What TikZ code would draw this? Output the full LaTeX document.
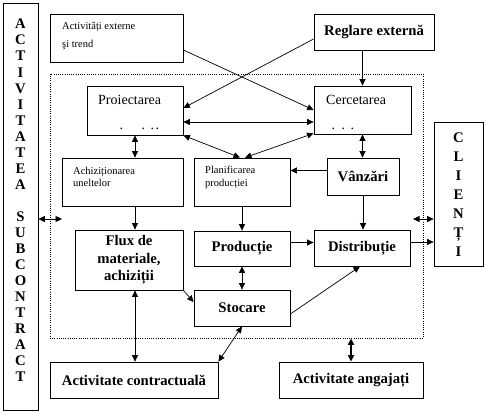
\documentclass[tikz,border=0pt]{standalone}
\usepackage{fontspec}
\setmainfont{Liberation Serif}
\usetikzlibrary{arrows.meta,calc}
\begin{document}
\begin{tikzpicture}[x=1pt,y=-1pt,
  box/.style={draw, line width=0.8pt, inner sep=0pt},
  bt/.style={font=\fontsize{14.7}{17.5}\selectfont\bfseries, align=center},
  st/.style={font=\fontsize{10.5}{12}\selectfont, anchor=base west, inner sep=0pt},
  mt/.style={font=\fontsize{14}{16}\selectfont, anchor=base west, inner sep=0pt},
  tip/.tip={Triangle[length=6.5pt,width=6pt]},
  conn/.style={line width=0.7pt, -tip},
  dconn/.style={line width=0.7pt, tip-tip},
]
\useasboundingbox (0,0) rectangle (486,414);

% dotted frame of the firm
\node[draw, line width=0.8pt, dash pattern=on 1pt off 1.2pt, inner sep=0pt,
      minimum width=373, minimum height=264] (core) at (236.5,206) {};

% outer boxes
\node[box, minimum width=35, minimum height=407] (sub) at (20.5,206.5) {};
\node[bt, inner sep=0pt, font=\fontsize{14.7}{16.04}\selectfont\bfseries] (subT) at (20.5,200.5)
  {A\\C\\T\\I\\V\\I\\T\\A\\T\\E\\A\\\mbox{}\\S\\U\\B\\C\\O\\N\\T\\R\\A\\C\\T};
\node[box, minimum width=133, minimum height=48] (ext) at (116.5,38) {};
\node[st] (extT1) at (62,30) {Activități externe};
\node[st] (extT2) at (62,48) {şi trend};
\node[box, bt, minimum width=120, minimum height=36] (reg) at (374,32) {Reglare externă};
\node[box, minimum width=49, minimum height=144] (cli) at (458.5,194) {};
\node[bt, inner sep=0pt, font=\fontsize{14.7}{19}\selectfont\bfseries] (cliT) at (458.5,195)
  {C\\L\\I\\E\\N\\Ț\\I};

% inner boxes
\node[box, minimum width=96, minimum height=49] (proj) at (135,110.5) {};
\node[mt] (projT) at (98,104.3) {Proiectarea};
\node[mt] (projD) at (119.5,129) {.\hspace{18.5pt}.\hspace{5.5pt}.\hspace{1.5pt}.};
\node[box, minimum width=97, minimum height=48] (cerc) at (362.5,110) {};
\node[mt] (cercT) at (326,104.3) {Cercetarea};
\node[mt] (cercD) at (331.5,129) {.\hspace{6.5pt}.\hspace{5.5pt}.};

\node[box, minimum width=121, minimum height=48] (ach) at (122.5,182) {};
\node[st] (achT1) at (73,174.3) {Achiziționarea};
\node[st] (achT2) at (73,186.7) {uneltelor};
\node[box, minimum width=96, minimum height=48] (plan) at (242,182) {};
\node[st] (planT1) at (205,173.3) {Planificarea};
\node[st] (planT2) at (205,186) {producției};
\node[box, bt, minimum width=72, minimum height=37] (vanz) at (363,176.5) {Vânzări};

\node[box, bt, minimum width=108, minimum height=60] (flux) at (129,260) {Flux de\\materiale,\\achiziții};
\node[box, bt, minimum width=96, minimum height=35] (prod) at (242,248.5) {Producție};
\node[box, bt, minimum width=96, minimum height=36] (dist) at (362,248) {Distribuție};
\node[box, bt, minimum width=96, minimum height=36] (stoc) at (242,308) {Stocare};

\node[box, bt, minimum width=168, minimum height=36] (contr) at (134,380) {Activitate contractuală};
\node[box, bt, minimum width=144, minimum height=36] (ang) at (351,380) {Activitate angajați};

% connectors
\draw[conn] ([yshift=-12pt]ext.east) -- (cerc.west);
\draw[conn] ([yshift=-7pt]reg.west) -- ([yshift=2.5pt]proj.east);
\draw[conn] (reg.south -| cerc.north) -- (cerc.north);
\draw[dconn] ([yshift=-11.5pt]proj.east) -- ([yshift=-11.5pt]proj.east -| cerc.west);
\draw[dconn] (proj.south east) -- ([xshift=-2pt]plan.north);
\draw[dconn] ([yshift=1pt]cerc.south west) -- ([xshift=3pt]plan.north);
\draw[dconn] (proj.south) -- (proj.south |- ach.north);
\draw[dconn] (cerc.south) -- (cerc.south |- vanz.north);
\draw[conn] ([yshift=6pt]vanz.west) -- ([yshift=6pt]vanz.west -| plan.east);
\draw[conn] (ach.south -| proj.south) -- (flux.north -| proj.south);
\draw[conn] (plan.south) -- (prod.north);
\draw[conn] (vanz.south) -- (vanz.south |- dist.north);
\draw[conn] ([yshift=6pt]prod.east) -- ([yshift=6pt]prod.east -| dist.west);
\draw[dconn] (prod.south) -- (stoc.north);
\draw[conn] (flux.south east) -- ([yshift=6pt]stoc.west);
\draw[conn] ([yshift=-6pt]stoc.east) -- ([xshift=-2pt]dist.south);
\draw[dconn] (flux.south -| proj.south) -- (contr.north -| proj.south);
\draw[dconn] (stoc.south) -- (contr.north east);
\draw[dconn, line width=1.6pt] (ang.north) -- (ang.north |- core.south);
\draw[conn] ([yshift=6pt]dist.east) -- ([yshift=6pt]dist.east -| cli.west);
\coordinate (lin) at (62,219);
\coordinate (rin) at (413,219);
\draw[dconn] (sub.east |- lin) -- (lin);
\draw[dconn] (rin) -- (rin -| cli.west);
\end{tikzpicture}
\end{document}
